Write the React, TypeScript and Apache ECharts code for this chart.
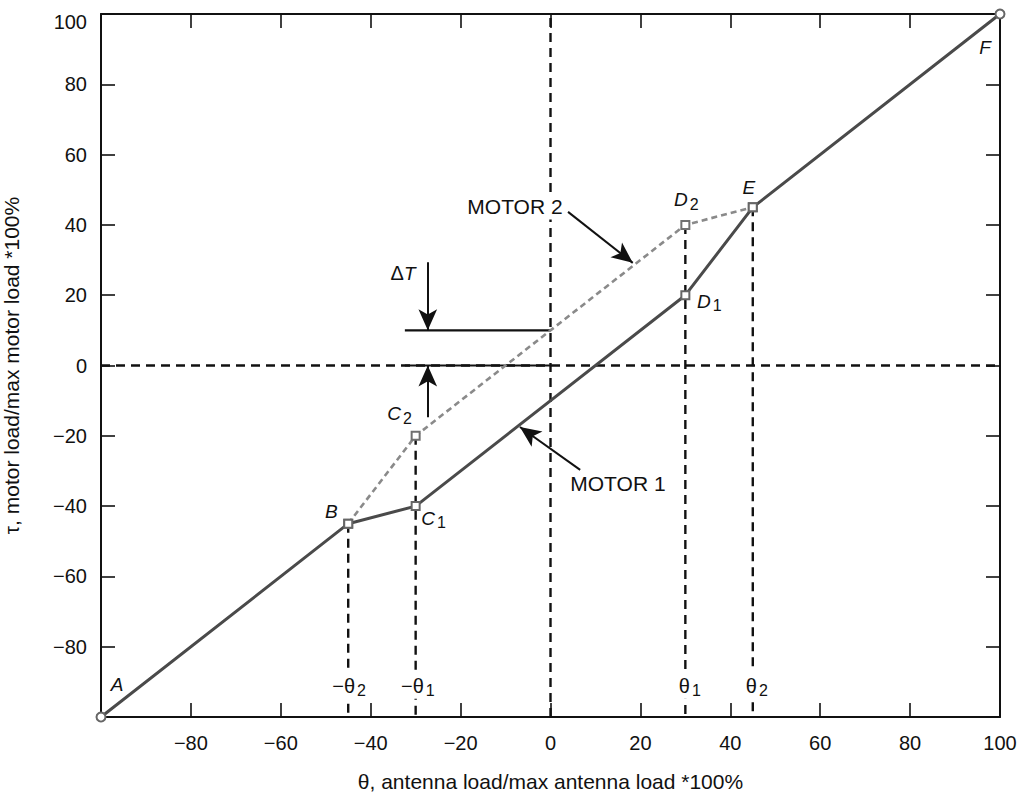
import React, { useEffect, useRef } from "react";
import * as echarts from "echarts";

const FONT = "'Liberation Sans', Arial, Helvetica, sans-serif";

// Operating points, θ and τ in percent of maximum load
const motor1Theta = [-100, -45, -30, 30, 45, 100];
const motor1Tau = [-100, -45, -40, 20, 45, 100];
const motor1Names = ["A", "B", "C1", "D1", "E", "F"];
const motor1LabelOffset = [[16, -33], [-17, -12], [18, 12], [24, 6], [-4, -20], [-15, 33]];

const motor2Theta = [-45, -30, 30, 45];
const motor2Tau = [-45, -20, 40, 45];
const motor2Names = ["", "C2", "D2", ""];
const motor2LabelOffset = [[0, 0], [-16, -22], [1, -25], [0, 0]];

// Vertical guides dropped from the break points to the θ axis
const guideTheta = [-45, -30, 30, 45];
const guideTop = [-45, -20, 40, 45];
const guideNames = ["−θ2", "−θ1", "θ1", "θ2"];
const guideLabelTheta = [-44.8, -29.5, 31.0, 45.9];
const guideLabelTau = -91;

// ΔT bracket between the two torque levels at θ = 0
const deltaLevels = [10, 0];
const deltaStart = -32.4;
const deltaArrowTheta = -27.3;
const deltaArrowTail = [29.4, -14.7];

// Callout arrows: [θ tail, τ tail, θ tip, τ tip]
const calloutArrows = [
  [3.9, 43.7, 18.3, 29.2],
  [6.6, -29.7, -6.8, -17.5],
];
const noteTexts = ["MOTOR 2", "MOTOR 1", "ΔT"];
const noteTheta = [-7.9, 15.0, -32.8];
const noteTau = [45.1, -33.6, 26.3];

const AXIS_MIN = -100;
const AXIS_MAX = 100;
const AXIS_STEP = 20;

const INK = "#111";

const rich = {
  it: { fontFamily: FONT, fontStyle: "italic", fontSize: 19, color: INK },
  n: { fontFamily: FONT, fontSize: 20, color: INK },
  note: { fontFamily: FONT, fontSize: 21, color: INK },
  sub: { fontFamily: FONT, fontSize: 16, color: INK, padding: [9, 0, 0, 2] },
  top: { fontFamily: FONT, fontSize: 20, color: INK, padding: [16, 0, 0, 0] },
};

function pointLabel(name: string): string {
  if (!name) return "";
  const head = name.charAt(0);
  const tail = name.slice(1);
  return `{it|${head}}` + (tail ? `{sub|${tail}}` : "");
}

function thetaLabel(name: string): string {
  const m = name.match(/^(.*θ)(\d)$/);
  return m ? `{n|${m[1]}}{sub|${m[2]}}` : `{n|${name}}`;
}

function noteLabel(text: string): string {
  if (text === "ΔT") return "{n|Δ}{it|T}";
  return `{note|${text}}`;
}

const tickFmt = (v: number) => (v === AXIS_MIN ? "" : String(v).replace("-", "\u2212"));

function App() {
  const ref = useRef<HTMLDivElement>(null);

  useEffect(() => {
    if (!ref.current) return;
    const chart = echarts.init(ref.current, undefined, { renderer: "svg" });

    const axisLine = { show: true, onZero: false, lineStyle: { color: INK, width: 2 } };
    const axisTick = { show: true, inside: true, length: 14, lineStyle: { color: INK, width: 1.6 } };
    const base = { type: "value", min: AXIS_MIN, max: AXIS_MAX, interval: AXIS_STEP, splitLine: { show: false } };

    const guideStyle = { color: INK, width: 2.4, type: [9, 6] };

    const guideSeries = guideTheta.map((x, i) => ({
      type: "line",
      data: [[x, guideTop[i]], [x, AXIS_MIN]],
      symbol: "none",
      lineStyle: guideStyle,
      z: 1,
      silent: true,
    }));

    const arrowMark = (data: any[]) => ({
      silent: true,
      symbol: ["none", "arrow"],
      symbolSize: [14, 21],
      label: { show: false },
      lineStyle: { color: INK, width: 2, type: "solid" },
      data,
    });

    const textOnly = { color: "rgba(0,0,0,0)", opacity: 1 };

    const option: any = {
      animation: false,
      backgroundColor: "#ffffff",
      grid: { left: 101, right: 21, top: 14, bottom: 77, containLabel: false, outerBoundsMode: "none" },
      xAxis: [
        {
          ...base,
          position: "bottom",
          axisLine,
          axisTick,
          axisLabel: { formatter: tickFmt, fontFamily: FONT, fontSize: 20, color: INK, margin: 16 },
          name: "θ, antenna load/max antenna load *100%",
          nameLocation: "middle",
          nameGap: 54,
          nameTextStyle: { fontFamily: FONT, fontSize: 21, color: INK },
        },
        { ...base, position: "top", axisLine, axisTick, axisLabel: { show: false } },
      ],
      yAxis: [
        {
          ...base,
          position: "left",
          axisLine,
          axisTick,
          axisLabel: {
            formatter: (v: number) => (v === AXIS_MAX ? "{top|100}" : tickFmt(v)),
            rich,
            fontFamily: FONT,
            fontSize: 20,
            color: INK,
            margin: 14,
          },
          name: "τ, motor load/max motor load *100%",
          nameLocation: "middle",
          nameGap: 79,
          nameRotate: 90,
          nameTextStyle: { fontFamily: FONT, fontSize: 21, color: INK },
        },
        { ...base, position: "right", axisLine, axisTick, axisLabel: { show: false } },
      ],
      series: [
        // Axes crossing at the origin
        {
          type: "line",
          data: [[0, AXIS_MIN], [0, AXIS_MAX]],
          symbol: "none",
          lineStyle: guideStyle,
          z: 1,
          silent: true,
        },
        {
          type: "line",
          data: [[AXIS_MIN, 0], [AXIS_MAX, 0]],
          symbol: "none",
          lineStyle: guideStyle,
          z: 1,
          silent: true,
        },
        ...guideSeries,
        // ΔT levels with arrows
        ...deltaLevels.map((lv, i) => ({
          type: "line",
          data: [[deltaStart, lv], [0, lv]],
          symbol: "none",
          lineStyle: { color: INK, width: 2.2 },
          z: 2,
          silent: true,
          markLine: arrowMark([[{ coord: [deltaArrowTheta, deltaArrowTail[i]] }, { coord: [deltaArrowTheta, lv] }]]),
        })),
        // MOTOR 2 (dashed)
        {
          type: "line",
          name: "MOTOR 2",
          data: motor2Theta.map((x, i) => ({
            value: [x, motor2Tau[i]],
            name: motor2Names[i],
            label: { offset: motor2LabelOffset[i] },
          })),
          symbol: "emptyRect",
          symbolSize: 8,
          showAllSymbol: true,
          itemStyle: { color: "#707070", borderWidth: 1.8 },
          lineStyle: { color: "#8a8a8a", width: 2.6, type: [6, 4] },
          label: {
            show: true,
            position: "inside",
            color: INK,
            formatter: (p: any) => pointLabel(p.name),
            rich,
          },
          z: 4,
          markLine: arrowMark(calloutArrows.map((a) => [{ coord: [a[0], a[1]] }, { coord: [a[2], a[3]] }])),
        },
        // MOTOR 1 (solid)
        {
          type: "line",
          name: "MOTOR 1",
          data: motor1Theta.map((x, i) => ({
            value: [x, motor1Tau[i]],
            name: motor1Names[i],
            symbol: i === 0 || i === motor1Theta.length - 1 ? "emptyCircle" : "emptyRect",
            symbolSize: i === 0 || i === motor1Theta.length - 1 ? 9 : 8,
            label: { offset: motor1LabelOffset[i] },
          })),
          showAllSymbol: true,
          itemStyle: { color: "#666", borderWidth: 1.8 },
          lineStyle: { color: "#4a4a4a", width: 3 },
          label: {
            show: true,
            position: "inside",
            color: INK,
            formatter: (p: any) => pointLabel(p.name),
            rich,
          },
          z: 5,
        },
        // θ labels at the foot of the guides
        {
          type: "scatter",
          data: guideLabelTheta.map((x, i) => ({ value: [x, guideLabelTau], name: guideNames[i] })),
          symbolSize: 1,
          itemStyle: textOnly,
          label: {
            show: true,
            position: "inside",
            color: INK,
            backgroundColor: "#fff",
            padding: [2, 1, 0, 1],
            formatter: (p: any) => thetaLabel(p.name),
            rich,
          },
          z: 6,
          silent: true,
        },
        // Text notes
        {
          type: "scatter",
          data: noteTheta.map((x, i) => ({ value: [x, noteTau[i]], name: noteTexts[i] })),
          symbolSize: 1,
          itemStyle: textOnly,
          label: {
            show: true,
            position: "inside",
            color: INK,
            backgroundColor: "#fff",
            padding: [2, 2],
            formatter: (p: any) => noteLabel(p.name),
            rich,
          },
          z: 6,
          silent: true,
        },
      ],
    };

    chart.setOption(option);
    return () => chart.dispose();
  }, []);

  return (
    <div
      ref={ref}
      style={{ position: "absolute", left: 0, top: 0, width: 1021, height: 794, background: "#fff" }}
    />
  );
}

export default App;
